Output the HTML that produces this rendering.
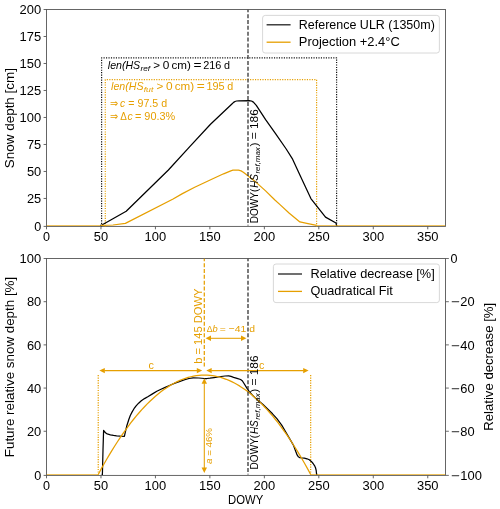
<!DOCTYPE html>
<html><head><meta charset="utf-8"><title>Snow depth projection</title>
<style>html,body{margin:0;padding:0;background:#fff}svg{display:block;will-change:transform;transform:translateZ(0)}text{font-family:"Liberation Sans",sans-serif}</style>
</head><body>
<svg width="500" height="509" viewBox="0 0 500 509">
<rect x="0" y="0" width="500" height="509" fill="#fff"/>
<defs><clipPath id="ct"><rect x="46.5" y="9.5" width="398.95" height="217.30"/></clipPath>
<clipPath id="cb"><rect x="46.5" y="258.5" width="398.95" height="217.30"/></clipPath></defs>
<rect x="46.5" y="9.5" width="398.95" height="216.90" fill="none" stroke="#555" stroke-width="0.9"/>
<rect x="46.5" y="258.5" width="398.95" height="216.90" fill="none" stroke="#555" stroke-width="0.9"/>
<g clip-path="url(#ct)">
<polyline points="101.60,226.40 101.60,57.90 336.60,57.90 336.60,226.40" fill="none" stroke="#111" stroke-width="1.2" stroke-linejoin="round" stroke-dasharray="1.15 1.32"/>
<polyline points="105.30,226.40 105.30,79.70 316.60,79.70 316.60,226.40" fill="none" stroke="#E69F00" stroke-width="1.2" stroke-linejoin="round" stroke-dasharray="1.15 1.32"/>
<polyline points="100.20,225.45 101.00,225.45 126.20,211.20 168.40,170.00 190.00,146.40 210.50,124.30 231.90,104.00 233.60,102.40 235.00,101.50 236.60,101.00 239.00,100.80 249.10,100.60 251.50,101.00 253.40,102.10 256.30,105.30 265.60,119.70 275.90,134.20 286.20,149.00 292.60,159.20 300.70,176.70 310.90,198.60 316.40,205.70 325.50,217.10 336.00,223.00 336.50,225.45 337.20,225.45" fill="none" stroke="#000" stroke-width="1.25" stroke-linejoin="round" />
<polyline points="101.00,225.45 113.00,225.00 125.40,223.40 173.10,199.00 182.40,193.60 194.70,187.20 211.20,179.50 223.60,173.80 230.80,170.80 233.00,170.20 235.50,170.00 238.50,170.20 241.10,170.90 243.30,172.20 245.30,173.80 250.00,177.50 255.30,181.60 265.60,190.90 274.90,200.00 280.00,204.60 289.30,213.30 299.90,221.90 308.00,223.70 316.60,225.45" fill="none" stroke="#E69F00" stroke-width="1.25" stroke-linejoin="round" />
<line x1="46.50" y1="225.50" x2="101.40" y2="225.50" stroke="#E69F00" stroke-width="1.0" stroke-opacity="0.62"/>
<line x1="316.60" y1="225.50" x2="445.45" y2="225.50" stroke="#E69F00" stroke-width="1.0" stroke-opacity="0.62"/>
<line x1="248.00" y1="9.50" x2="248.00" y2="225.45" stroke="#333" stroke-width="1.3" stroke-dasharray="4.0 1.85" stroke-dashoffset="1.2"/>
</g>
<g transform="translate(258.4,223.2) rotate(-90)">
<text x="0" y="0" font-size="10.6" fill="#000" textLength="34.6" lengthAdjust="spacingAndGlyphs">DOWY(</text>
<text x="35.4" y="0" font-size="10.6" fill="#000" font-style="italic" textLength="13.6" lengthAdjust="spacingAndGlyphs">HS</text>
<text x="49.6" y="1.7" font-size="7.4" fill="#000" font-style="italic" textLength="26.4" lengthAdjust="spacingAndGlyphs">ref,max</text>
<text x="76.6" y="0" font-size="10.6" fill="#000" textLength="37.4" lengthAdjust="spacingAndGlyphs">) = 186</text>
</g>
<text x="107.80" y="68.70" font-size="10.6" fill="#000" textLength="32.40" lengthAdjust="spacingAndGlyphs" font-style="italic">len(HS</text>
<text x="140.40" y="71.10" font-size="7.4" fill="#000" textLength="9.60" lengthAdjust="spacingAndGlyphs" font-style="italic">ref</text>
<text x="153.20" y="68.70" font-size="10.6" fill="#000" textLength="6.80" lengthAdjust="spacingAndGlyphs">&gt;</text>
<text x="162.80" y="68.70" font-size="10.6" fill="#000" textLength="6.60" lengthAdjust="spacingAndGlyphs">0</text>
<text x="171.40" y="68.70" font-size="10.6" fill="#000" textLength="19.40" lengthAdjust="spacingAndGlyphs">cm)</text>
<text x="193.40" y="68.70" font-size="10.6" fill="#000" textLength="8.00" lengthAdjust="spacingAndGlyphs">=</text>
<text x="203.20" y="68.70" font-size="10.6" fill="#000" textLength="18.20" lengthAdjust="spacingAndGlyphs">216</text>
<text x="224.00" y="68.70" font-size="10.6" fill="#000" textLength="6.00" lengthAdjust="spacingAndGlyphs">d</text>
<text x="111.10" y="90.00" font-size="10.6" fill="#E69F00" textLength="32.40" lengthAdjust="spacingAndGlyphs" font-style="italic">len(HS</text>
<text x="143.70" y="92.40" font-size="7.4" fill="#E69F00" textLength="9.60" lengthAdjust="spacingAndGlyphs" font-style="italic">fut</text>
<text x="156.50" y="90.00" font-size="10.6" fill="#E69F00" textLength="6.80" lengthAdjust="spacingAndGlyphs">&gt;</text>
<text x="166.10" y="90.00" font-size="10.6" fill="#E69F00" textLength="6.60" lengthAdjust="spacingAndGlyphs">0</text>
<text x="174.70" y="90.00" font-size="10.6" fill="#E69F00" textLength="19.40" lengthAdjust="spacingAndGlyphs">cm)</text>
<text x="196.70" y="90.00" font-size="10.6" fill="#E69F00" textLength="8.00" lengthAdjust="spacingAndGlyphs">=</text>
<text x="206.50" y="90.00" font-size="10.6" fill="#E69F00" textLength="18.20" lengthAdjust="spacingAndGlyphs">195</text>
<text x="227.30" y="90.00" font-size="10.6" fill="#E69F00" textLength="6.00" lengthAdjust="spacingAndGlyphs">d</text>
<text x="109.70" y="106.70" font-size="10.6" fill="#E69F00" textLength="8.00" lengthAdjust="spacingAndGlyphs">&#8658;</text>
<text x="120.10" y="106.70" font-size="10.6" fill="#E69F00" textLength="5.20" lengthAdjust="spacingAndGlyphs" font-style="italic">c</text>
<text x="128.30" y="106.70" font-size="10.6" fill="#E69F00" textLength="38.80" lengthAdjust="spacingAndGlyphs">= 97.5 d</text>
<text x="109.70" y="120.30" font-size="10.6" fill="#E69F00" textLength="8.00" lengthAdjust="spacingAndGlyphs">&#8658;</text>
<text x="120.20" y="120.30" font-size="10.6" fill="#E69F00" textLength="6.60" lengthAdjust="spacingAndGlyphs">&#916;</text>
<text x="127.40" y="120.30" font-size="10.6" fill="#E69F00" textLength="5.20" lengthAdjust="spacingAndGlyphs" font-style="italic">c</text>
<text x="135.00" y="120.30" font-size="10.6" fill="#E69F00" textLength="40.20" lengthAdjust="spacingAndGlyphs">= 90.3%</text>
<g clip-path="url(#cb)">
<line x1="98.24" y1="375.11" x2="98.24" y2="474.45" stroke="#E69F00" stroke-width="1.25" stroke-dasharray="1.15 1.32"/>
<line x1="310.66" y1="375.11" x2="310.66" y2="474.45" stroke="#E69F00" stroke-width="1.25" stroke-dasharray="1.15 1.32"/>
<polyline points="101.60,474.45 102.40,474.45 103.00,450.00 103.60,430.30 104.60,431.80 106.20,433.40 108.00,434.20 110.40,434.80 113.50,435.40 116.60,435.80 120.50,436.20 124.40,436.40 125.20,432.70 126.90,425.50 128.90,419.30 130.30,415.50 132.00,412.10 134.00,408.70 136.10,405.90 138.60,403.20 141.30,400.80 144.50,398.60 148.20,396.50 152.50,393.90 156.80,391.30 161.00,389.20 165.20,387.40 170.00,385.30 175.00,383.20 180.00,381.30 184.80,379.70 189.00,378.50 193.20,377.80 198.80,378.00 204.40,378.50 207.00,378.50 210.00,378.20 214.00,377.60 221.00,376.50 225.00,376.00 228.70,375.90 231.00,376.40 233.60,377.30 237.00,378.30 240.60,379.50 242.20,380.70 243.40,382.50 246.90,388.10 249.00,391.40 252.50,395.20 256.00,398.60 260.00,401.90 263.00,404.50 268.40,409.70 272.50,413.80 276.70,418.40 281.70,425.10 285.90,432.20 289.60,438.60 293.40,445.10 295.40,450.50 297.10,454.90 298.40,456.80 299.80,457.70 302.00,458.00 304.30,458.20 307.00,458.80 309.30,459.80 311.30,461.40 313.10,463.50 314.50,465.60 315.50,467.70 316.20,470.50 316.60,474.45 317.40,474.45" fill="none" stroke="#000" stroke-width="1.25" stroke-linejoin="round" />
<polyline points="98.24,474.45 100.97,469.42 103.69,464.52 106.41,459.76 109.13,455.12 111.86,450.61 114.58,446.24 117.30,441.99 120.03,437.88 122.75,433.89 125.47,430.04 128.20,426.32 130.92,422.72 133.64,419.26 136.37,415.93 139.09,412.73 141.81,409.66 144.54,406.72 147.26,403.91 149.98,401.24 152.71,398.69 155.43,396.27 158.15,393.99 160.88,391.83 163.60,389.81 166.32,387.91 169.05,386.15 171.77,384.52 174.49,383.02 177.22,381.64 179.94,380.40 182.66,379.29 185.39,378.31 188.11,377.46 190.83,376.75 193.56,376.16 196.28,375.70 199.00,375.37 201.73,375.18 204.45,375.11 207.17,375.18 209.89,375.37 212.62,375.70 215.34,376.16 218.06,376.75 220.79,377.46 223.51,378.31 226.23,379.29 228.96,380.40 231.68,381.64 234.40,383.02 237.13,384.52 239.85,386.15 242.57,387.91 245.30,389.81 248.02,391.83 250.74,393.99 253.47,396.27 256.19,398.69 258.91,401.24 261.64,403.91 264.36,406.72 267.08,409.66 269.81,412.73 272.53,415.93 275.25,419.26 277.98,422.72 280.70,426.32 283.42,430.04 286.15,433.89 288.87,437.88 291.59,441.99 294.32,446.24 297.04,450.61 299.76,455.12 302.49,459.76 305.21,464.52 307.93,469.42 310.66,474.45 310.66,474.45" fill="none" stroke="#E69F00" stroke-width="1.25" stroke-linejoin="round" />
<line x1="46.50" y1="474.50" x2="98.64" y2="474.50" stroke="#E69F00" stroke-width="1.0" stroke-opacity="0.62"/>
<line x1="310.26" y1="474.50" x2="445.45" y2="474.50" stroke="#E69F00" stroke-width="1.0" stroke-opacity="0.62"/>
<line x1="248.00" y1="258.50" x2="248.00" y2="474.45" stroke="#333" stroke-width="1.3" stroke-dasharray="4.0 1.85" stroke-dashoffset="1.2"/>
<line x1="204.30" y1="258.50" x2="204.30" y2="366.60" stroke="#E69F00" stroke-width="1.25" stroke-dasharray="4.0 1.85" stroke-dashoffset="1.2"/>
</g>
<line x1="104.30" y1="370.60" x2="197.30" y2="370.60" stroke="#E69F00" stroke-width="1.05" />
<polygon points="99.40,370.60 104.80,367.90 104.80,373.30" fill="#E69F00"/>
<polygon points="202.20,370.60 196.80,367.90 196.80,373.30" fill="#E69F00"/>
<line x1="211.20" y1="370.60" x2="303.70" y2="370.60" stroke="#E69F00" stroke-width="1.05" />
<polygon points="206.30,370.60 211.70,367.90 211.70,373.30" fill="#E69F00"/>
<polygon points="308.60,370.60 303.20,367.90 303.20,373.30" fill="#E69F00"/>
<line x1="210.50" y1="338.30" x2="241.50" y2="338.30" stroke="#E69F00" stroke-width="1.05" />
<polygon points="205.60,338.30 211.00,335.60 211.00,341.00" fill="#E69F00"/>
<polygon points="246.40,338.30 241.00,335.60 241.00,341.00" fill="#E69F00"/>
<line x1="204.30" y1="383.20" x2="204.30" y2="468.10" stroke="#E69F00" stroke-width="1.05" />
<polygon points="204.30,378.30 201.60,383.70 207.00,383.70" fill="#E69F00"/>
<polygon points="204.30,473.00 201.60,467.60 207.00,467.60" fill="#E69F00"/>
<text x="148.60" y="368.60" font-size="10.6" fill="#E69F00" textLength="5.40" lengthAdjust="spacingAndGlyphs">c</text>
<text x="258.90" y="368.60" font-size="10.6" fill="#E69F00" textLength="5.40" lengthAdjust="spacingAndGlyphs">c</text>
<text x="202.30" y="363.80" font-size="10.6" fill="#E69F00" textLength="75.20" lengthAdjust="spacingAndGlyphs" transform="rotate(-90 202.30 363.80)">b = 145 DOWY</text>
<text x="212.00" y="464.00" font-size="9.2" fill="#E69F00" textLength="36.00" lengthAdjust="spacingAndGlyphs" transform="rotate(-90 212.00 464.00)"><tspan font-style="italic">a</tspan> = 46%</text>
<text x="206.70" y="332.10" font-size="9.8" fill="#E69F00" textLength="5.80" lengthAdjust="spacingAndGlyphs">&#916;</text>
<text x="212.50" y="332.10" font-size="9.8" fill="#E69F00" textLength="5.20" lengthAdjust="spacingAndGlyphs" font-style="italic">b</text>
<text x="219.80" y="332.10" font-size="9.8" fill="#E69F00" textLength="35.20" lengthAdjust="spacingAndGlyphs">= &#8722;41 d</text>
<g transform="translate(258.4,469.4) rotate(-90)">
<text x="0" y="0" font-size="10.6" fill="#000" textLength="34.6" lengthAdjust="spacingAndGlyphs">DOWY(</text>
<text x="35.4" y="0" font-size="10.6" fill="#000" font-style="italic" textLength="13.6" lengthAdjust="spacingAndGlyphs">HS</text>
<text x="49.6" y="1.7" font-size="7.4" fill="#000" font-style="italic" textLength="26.4" lengthAdjust="spacingAndGlyphs">ref,max</text>
<text x="76.6" y="0" font-size="10.6" fill="#000" textLength="37.4" lengthAdjust="spacingAndGlyphs">) = 186</text>
</g>
<line x1="46.50" y1="226.40" x2="46.50" y2="229.30" stroke="#555" stroke-width="0.9" />
<text x="43.00" y="240.60" font-size="12.1" fill="#000" textLength="7.00" lengthAdjust="spacingAndGlyphs">0</text>
<line x1="100.97" y1="226.40" x2="100.97" y2="229.30" stroke="#555" stroke-width="0.9" />
<text x="93.81" y="240.60" font-size="12.1" fill="#000" textLength="14.30" lengthAdjust="spacingAndGlyphs">50</text>
<line x1="155.43" y1="226.40" x2="155.43" y2="229.30" stroke="#555" stroke-width="0.9" />
<text x="144.63" y="240.60" font-size="12.1" fill="#000" textLength="21.60" lengthAdjust="spacingAndGlyphs">100</text>
<line x1="209.89" y1="226.40" x2="209.89" y2="229.30" stroke="#555" stroke-width="0.9" />
<text x="199.09" y="240.60" font-size="12.1" fill="#000" textLength="21.60" lengthAdjust="spacingAndGlyphs">150</text>
<line x1="264.36" y1="226.40" x2="264.36" y2="229.30" stroke="#555" stroke-width="0.9" />
<text x="253.56" y="240.60" font-size="12.1" fill="#000" textLength="21.60" lengthAdjust="spacingAndGlyphs">200</text>
<line x1="318.82" y1="226.40" x2="318.82" y2="229.30" stroke="#555" stroke-width="0.9" />
<text x="308.02" y="240.60" font-size="12.1" fill="#000" textLength="21.60" lengthAdjust="spacingAndGlyphs">250</text>
<line x1="373.29" y1="226.40" x2="373.29" y2="229.30" stroke="#555" stroke-width="0.9" />
<text x="362.49" y="240.60" font-size="12.1" fill="#000" textLength="21.60" lengthAdjust="spacingAndGlyphs">300</text>
<line x1="427.75" y1="226.40" x2="427.75" y2="229.30" stroke="#555" stroke-width="0.9" />
<text x="416.95" y="240.60" font-size="12.1" fill="#000" textLength="21.60" lengthAdjust="spacingAndGlyphs">350</text>
<line x1="46.50" y1="475.40" x2="46.50" y2="478.30" stroke="#555" stroke-width="0.9" />
<text x="43.00" y="489.60" font-size="12.1" fill="#000" textLength="7.00" lengthAdjust="spacingAndGlyphs">0</text>
<line x1="100.97" y1="475.40" x2="100.97" y2="478.30" stroke="#555" stroke-width="0.9" />
<text x="93.81" y="489.60" font-size="12.1" fill="#000" textLength="14.30" lengthAdjust="spacingAndGlyphs">50</text>
<line x1="155.43" y1="475.40" x2="155.43" y2="478.30" stroke="#555" stroke-width="0.9" />
<text x="144.63" y="489.60" font-size="12.1" fill="#000" textLength="21.60" lengthAdjust="spacingAndGlyphs">100</text>
<line x1="209.89" y1="475.40" x2="209.89" y2="478.30" stroke="#555" stroke-width="0.9" />
<text x="199.09" y="489.60" font-size="12.1" fill="#000" textLength="21.60" lengthAdjust="spacingAndGlyphs">150</text>
<line x1="264.36" y1="475.40" x2="264.36" y2="478.30" stroke="#555" stroke-width="0.9" />
<text x="253.56" y="489.60" font-size="12.1" fill="#000" textLength="21.60" lengthAdjust="spacingAndGlyphs">200</text>
<line x1="318.82" y1="475.40" x2="318.82" y2="478.30" stroke="#555" stroke-width="0.9" />
<text x="308.02" y="489.60" font-size="12.1" fill="#000" textLength="21.60" lengthAdjust="spacingAndGlyphs">250</text>
<line x1="373.29" y1="475.40" x2="373.29" y2="478.30" stroke="#555" stroke-width="0.9" />
<text x="362.49" y="489.60" font-size="12.1" fill="#000" textLength="21.60" lengthAdjust="spacingAndGlyphs">300</text>
<line x1="427.75" y1="475.40" x2="427.75" y2="478.30" stroke="#555" stroke-width="0.9" />
<text x="416.95" y="489.60" font-size="12.1" fill="#000" textLength="21.60" lengthAdjust="spacingAndGlyphs">350</text>
<line x1="43.60" y1="226.40" x2="46.50" y2="226.40" stroke="#555" stroke-width="0.9" />
<text x="34.20" y="231.10" font-size="12.1" fill="#000" textLength="7.00" lengthAdjust="spacingAndGlyphs">0</text>
<line x1="43.60" y1="198.46" x2="46.50" y2="198.46" stroke="#555" stroke-width="0.9" />
<text x="26.90" y="203.16" font-size="12.1" fill="#000" textLength="14.30" lengthAdjust="spacingAndGlyphs">25</text>
<line x1="43.60" y1="171.46" x2="46.50" y2="171.46" stroke="#555" stroke-width="0.9" />
<text x="26.90" y="176.16" font-size="12.1" fill="#000" textLength="14.30" lengthAdjust="spacingAndGlyphs">50</text>
<line x1="43.60" y1="144.47" x2="46.50" y2="144.47" stroke="#555" stroke-width="0.9" />
<text x="26.90" y="149.17" font-size="12.1" fill="#000" textLength="14.30" lengthAdjust="spacingAndGlyphs">75</text>
<line x1="43.60" y1="117.47" x2="46.50" y2="117.47" stroke="#555" stroke-width="0.9" />
<text x="19.60" y="122.17" font-size="12.1" fill="#000" textLength="21.60" lengthAdjust="spacingAndGlyphs">100</text>
<line x1="43.60" y1="90.48" x2="46.50" y2="90.48" stroke="#555" stroke-width="0.9" />
<text x="19.60" y="95.18" font-size="12.1" fill="#000" textLength="21.60" lengthAdjust="spacingAndGlyphs">125</text>
<line x1="43.60" y1="63.49" x2="46.50" y2="63.49" stroke="#555" stroke-width="0.9" />
<text x="19.60" y="68.19" font-size="12.1" fill="#000" textLength="21.60" lengthAdjust="spacingAndGlyphs">150</text>
<line x1="43.60" y1="36.49" x2="46.50" y2="36.49" stroke="#555" stroke-width="0.9" />
<text x="19.60" y="41.19" font-size="12.1" fill="#000" textLength="21.60" lengthAdjust="spacingAndGlyphs">175</text>
<line x1="43.60" y1="9.50" x2="46.50" y2="9.50" stroke="#555" stroke-width="0.9" />
<text x="19.60" y="14.20" font-size="12.1" fill="#000" textLength="21.60" lengthAdjust="spacingAndGlyphs">200</text>
<line x1="43.60" y1="475.40" x2="46.50" y2="475.40" stroke="#555" stroke-width="0.9" />
<text x="34.20" y="480.10" font-size="12.1" fill="#000" textLength="7.00" lengthAdjust="spacingAndGlyphs">0</text>
<line x1="445.45" y1="475.40" x2="448.85" y2="475.40" stroke="#555" stroke-width="0.85" />
<text x="450.70" y="480.10" font-size="12.1" fill="#000" textLength="8.90" lengthAdjust="spacingAndGlyphs">&#8722;</text>
<text x="460.30" y="480.10" font-size="12.1" fill="#000" textLength="21.60" lengthAdjust="spacingAndGlyphs">100</text>
<line x1="43.60" y1="431.26" x2="46.50" y2="431.26" stroke="#555" stroke-width="0.9" />
<text x="26.90" y="435.96" font-size="12.1" fill="#000" textLength="14.30" lengthAdjust="spacingAndGlyphs">20</text>
<line x1="445.45" y1="431.26" x2="448.85" y2="431.26" stroke="#555" stroke-width="0.85" />
<text x="450.70" y="435.96" font-size="12.1" fill="#000" textLength="8.90" lengthAdjust="spacingAndGlyphs">&#8722;</text>
<text x="460.30" y="435.96" font-size="12.1" fill="#000" textLength="14.30" lengthAdjust="spacingAndGlyphs">80</text>
<line x1="43.60" y1="388.07" x2="46.50" y2="388.07" stroke="#555" stroke-width="0.9" />
<text x="26.90" y="392.77" font-size="12.1" fill="#000" textLength="14.30" lengthAdjust="spacingAndGlyphs">40</text>
<line x1="445.45" y1="388.07" x2="448.85" y2="388.07" stroke="#555" stroke-width="0.85" />
<text x="450.70" y="392.77" font-size="12.1" fill="#000" textLength="8.90" lengthAdjust="spacingAndGlyphs">&#8722;</text>
<text x="460.30" y="392.77" font-size="12.1" fill="#000" textLength="14.30" lengthAdjust="spacingAndGlyphs">60</text>
<line x1="43.60" y1="344.88" x2="46.50" y2="344.88" stroke="#555" stroke-width="0.9" />
<text x="26.90" y="349.58" font-size="12.1" fill="#000" textLength="14.30" lengthAdjust="spacingAndGlyphs">60</text>
<line x1="445.45" y1="344.88" x2="448.85" y2="344.88" stroke="#555" stroke-width="0.85" />
<text x="450.70" y="349.58" font-size="12.1" fill="#000" textLength="8.90" lengthAdjust="spacingAndGlyphs">&#8722;</text>
<text x="460.30" y="349.58" font-size="12.1" fill="#000" textLength="14.30" lengthAdjust="spacingAndGlyphs">40</text>
<line x1="43.60" y1="301.69" x2="46.50" y2="301.69" stroke="#555" stroke-width="0.9" />
<text x="26.90" y="306.39" font-size="12.1" fill="#000" textLength="14.30" lengthAdjust="spacingAndGlyphs">80</text>
<line x1="445.45" y1="301.69" x2="448.85" y2="301.69" stroke="#555" stroke-width="0.85" />
<text x="450.70" y="306.39" font-size="12.1" fill="#000" textLength="8.90" lengthAdjust="spacingAndGlyphs">&#8722;</text>
<text x="460.30" y="306.39" font-size="12.1" fill="#000" textLength="14.30" lengthAdjust="spacingAndGlyphs">20</text>
<line x1="43.60" y1="258.50" x2="46.50" y2="258.50" stroke="#555" stroke-width="0.9" />
<text x="19.60" y="263.20" font-size="12.1" fill="#000" textLength="21.60" lengthAdjust="spacingAndGlyphs">100</text>
<line x1="445.45" y1="258.50" x2="448.85" y2="258.50" stroke="#555" stroke-width="0.85" />
<text x="450.60" y="263.20" font-size="12.1" fill="#000" textLength="7.00" lengthAdjust="spacingAndGlyphs">0</text>
<text x="14.50" y="168.20" font-size="12.1" fill="#000" textLength="100.20" lengthAdjust="spacingAndGlyphs" transform="rotate(-90 14.50 168.20)">Snow depth [cm]</text>
<text x="14.50" y="457.20" font-size="12.1" fill="#000" textLength="180.40" lengthAdjust="spacingAndGlyphs" transform="rotate(-90 14.50 457.20)">Future relative snow depth [%]</text>
<text x="493.10" y="430.80" font-size="12.1" fill="#000" textLength="128.00" lengthAdjust="spacingAndGlyphs" transform="rotate(-90 493.10 430.80)">Relative decrease [%]</text>
<text x="228.10" y="503.90" font-size="12.1" fill="#000" textLength="35.20" lengthAdjust="spacingAndGlyphs">DOWY</text>
<rect x="262.6" y="15.4" width="176.8" height="37.6" rx="2.6" fill="#fff" fill-opacity="0.8" stroke="#ccc" stroke-opacity="0.8" stroke-width="0.95"/>
<line x1="266.60" y1="24.80" x2="290.60" y2="24.80" stroke="#222" stroke-width="1.3" />
<text x="298.80" y="29.00" font-size="12.1" fill="#000" textLength="136.00" lengthAdjust="spacingAndGlyphs">Reference ULR (1350m)</text>
<line x1="266.60" y1="42.20" x2="290.60" y2="42.20" stroke="#E69F00" stroke-width="1.3" />
<text x="298.80" y="46.40" font-size="12.1" fill="#000" textLength="101.00" lengthAdjust="spacingAndGlyphs">Projection +2.4&#176;C</text>
<rect x="273.4" y="264.0" width="166.0" height="38.6" rx="2.6" fill="#fff" fill-opacity="0.8" stroke="#ccc" stroke-opacity="0.8" stroke-width="0.95"/>
<line x1="278.00" y1="274.00" x2="302.00" y2="274.00" stroke="#222" stroke-width="1.3" />
<text x="310.40" y="278.00" font-size="12.1" fill="#000" textLength="124.40" lengthAdjust="spacingAndGlyphs">Relative decrease [%]</text>
<line x1="278.00" y1="291.40" x2="302.00" y2="291.40" stroke="#E69F00" stroke-width="1.3" />
<text x="310.40" y="295.40" font-size="12.1" fill="#000" textLength="82.40" lengthAdjust="spacingAndGlyphs">Quadratical Fit</text>
</svg>
</body></html>
